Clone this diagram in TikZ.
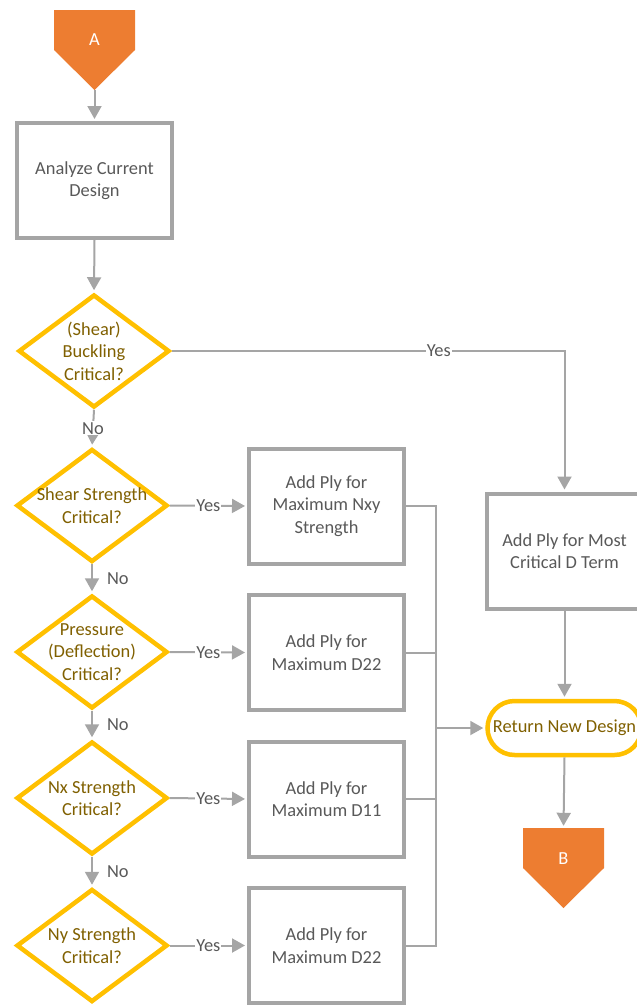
\documentclass[tikz,border=0pt]{standalone}
\usepackage{fontspec}
\setmainfont{Carlito}
\usetikzlibrary{shapes.geometric,arrows.meta}

\definecolor{linegray}{HTML}{A5A5A5}
\definecolor{boxtext}{HTML}{595959}
\definecolor{gold}{HTML}{FFC000}
\definecolor{olive}{HTML}{806000}
\definecolor{pageorange}{HTML}{ED7D31}

\tikzset{
  process/.style={draw=linegray, line width=4pt, fill=white, minimum width=155pt, minimum height=115pt, text=boxtext, align=center},
  decision/.style={shape=diamond, draw=gold, line width=4.5pt, fill=white, minimum width=151pt, minimum height=113pt, inner sep=0pt},
  dtext/.style={text=olive, align=center, inner sep=0pt},
  terminator/.style={draw=gold, line width=4.5pt, fill=white, rounded corners=27pt, minimum width=154pt, minimum height=54pt, inner sep=2pt, text=olive},
  offpage/.style={minimum width=81pt, minimum height=80pt, inner sep=0pt,
    path picture={\fill[pageorange] (path picture bounding box.north west) -- (path picture bounding box.north east)
      -- ([yshift=40pt]path picture bounding box.south east) -- (path picture bounding box.south)
      -- ([yshift=40pt]path picture bounding box.south west) -- cycle;}},
  pagelabel/.style={text=white, inner sep=0pt},
  flow/.style={draw=linegray, line width=2pt, -{Triangle[length=13pt,width=14pt]}, shorten >=2pt},
  link/.style={draw=linegray, line width=2pt},
  elabel/.style={fill=white, inner sep=1pt, text=boxtext},
  nolabel/.style={anchor=west, inner sep=0pt, xshift=14pt, text=boxtext}
}

\begin{document}
\begin{tikzpicture}[x=1pt, y=-1pt, font=\fontsize{18.4}{22.5}\selectfont]
\useasboundingbox (0,0) rectangle (637,1005);
\clip (0,0) rectangle (637,1005);

% main column
\node[offpage, label={[pagelabel, yshift=10pt]center:A}] (A) at (94.5,50) {};
\node[process] (analyze) at (94.5,180.5) {Analyze Current\\Design};
\node[decision, label={[dtext]center:(Shear)\\Buckling\\Critical?}] (buckling) at (94,351) {};
\node[decision, label={[dtext]center:Shear Strength\\Critical?}] (shear) at (92,505.5) {};
\node[decision, label={[dtext]center:Pressure\\(Deflection)\\Critical?}] (pressure) at (92,652) {};
\node[decision, label={[dtext]center:Nx Strength\\Critical?}] (nx) at (92,798) {};
\node[decision, label={[dtext]center:Ny Strength\\Critical?}] (ny) at (92,945.5) {};

% ply boxes
\node[process] (plyNxy) at (326.5,506) {Add Ply for\\Maximum Nxy\\Strength};
\node[process] (plyDpress) at (326.5,652.5) {Add Ply for\\Maximum D22};
\node[process] (plyDnx) at (326.5,799) {Add Ply for\\Maximum D11};
\node[process] (plyDny) at (326.5,945.5) {Add Ply for\\Maximum D22};

% right column
\node[process] (plyDterm) at (564.5,551) {Add Ply for Most\\Critical D Term};
\node[terminator] (return) at (564.5,728) {Return New Design};
\node[offpage, label={[pagelabel, yshift=9pt]center:B}] (B) at (563.5,868) {};
\coordinate (bus) at (436,728);

\draw[flow] (A.south) -- (analyze.north);
\draw[flow] (analyze.south) -- (buckling.north);
\draw[flow] (buckling.east) -| node[elabel, pos=0.34] {Yes} (plyDterm.north);
\draw[flow] (buckling.south) -- node[elabel] {No} (shear.north);
\draw[flow] (shear.south) -- node[nolabel] {No} (pressure.north);
\draw[flow] (pressure.south) -- node[nolabel] {No} (nx.north);
\draw[flow] (nx.south) -- node[nolabel] {No} (ny.north);

\draw[flow] (shear.east) -- node[elabel] {Yes} (plyNxy.west);
\draw[flow] (pressure.east) -- node[elabel] {Yes} (plyDpress.west);
\draw[flow] (nx.east) -- node[elabel] {Yes} (plyDnx.west);
\draw[flow] (ny.east) -- node[elabel] {Yes} (plyDny.west);

\draw[link] (plyNxy.east) -| (bus);
\draw[link] (plyDpress.east) -| (bus);
\draw[link] (plyDnx.east) -| (bus);
\draw[link] (plyDny.east) -| (bus);
\draw[flow] (bus) -- (return.west);

\draw[flow] (plyDterm.south) -- (return.north);
\draw[flow] (return.south) -- (B.north);
\end{tikzpicture}
\end{document}
